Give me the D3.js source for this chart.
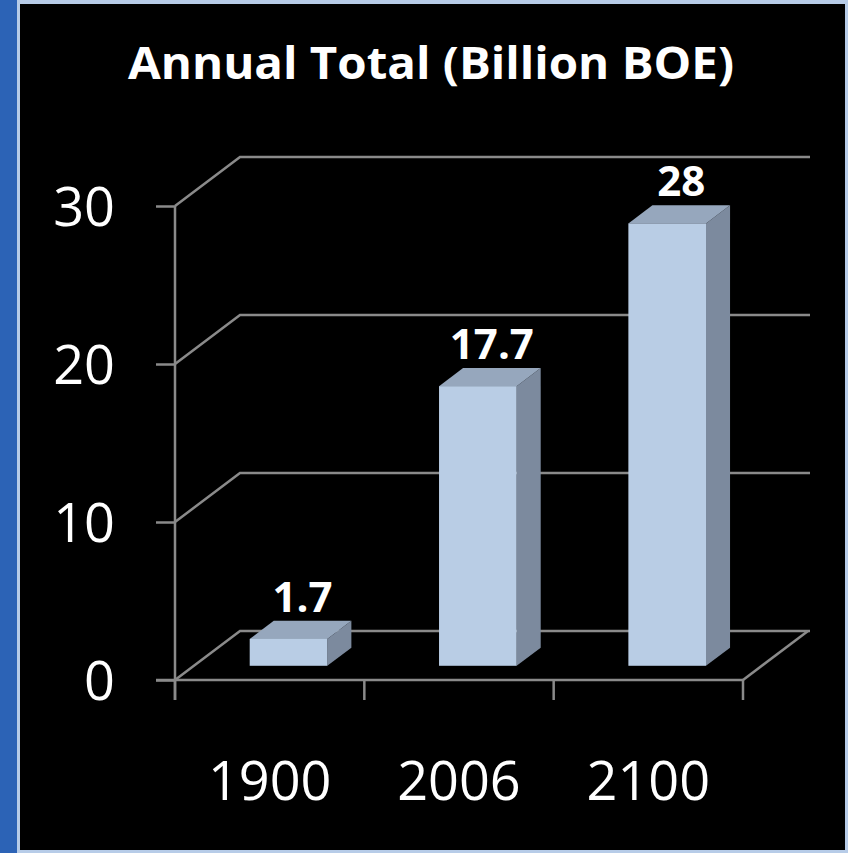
<!DOCTYPE html>
<html>
<head>
<meta charset="utf-8">
<script src="https://cdn.jsdelivr.net/npm/d3@7"></script>
<style>
  html, body { margin: 0; padding: 0; background: #b9cee9; }
  svg { display: block; }
</style>
</head>
<body>
<svg id="chart" width="848" height="853"></svg>
<script>
// Annual total energy, billion barrels of oil equivalent
const categories = ["1900", "2006", "2100"];
const values = [1.7, 17.7, 28];
const valueLabels = ["1.7", "17.7", "28"];
const yTicks = [0, 10, 20, 30];
const title = "Annual Total (Billion BOE)";

const svg = d3.select("#chart");
const W = 848, H = 853;

// Frame: blue strip on the left, black panel
svg.append("rect").attr("x", 0).attr("y", 0).attr("width", W).attr("height", H).attr("fill", "#b7cce8");
svg.append("rect").attr("x", 0).attr("y", 0).attr("width", 17).attr("height", H).attr("fill", "#2c63b6");
svg.append("rect").attr("x", 20).attr("y", 4).attr("width", 825).attr("height", 846).attr("fill", "#000");

// Front plane of the 3D box
const left = 175, right = 743;
const y = d3.scaleLinear().domain([0, 30]).range([680, 206]);
const x = d3.scaleBand().domain(categories).range([left, right])
  .paddingInner(0.59).paddingOuter(0.295);

// Depth vector of the box (front to back wall)
const depth = { dx: 65, dy: -49 };
const backRight = 810;
// Bars occupy this slice of the depth
const zFront = 0.29, zBack = 0.66;
const proj = (px, py, z) => [px + depth.dx * z, py + depth.dy * z];

const gridColor = "#8a8a8a";
const g = svg.append("g");

// Back-wall gridlines with their diagonal side-wall segments
yTicks.forEach(v => {
  const y0 = y(v);
  const [bx, by] = proj(left, y0, 1);
  g.append("path")
    .attr("d", `M${left},${y0}L${bx},${by}L${backRight},${by}`)
    .attr("fill", "none").attr("stroke", gridColor).attr("stroke-width", 2.5);
});

// Floor: right diagonal edge
{
  const [bx, by] = proj(right, y(0), 1);
  g.append("path").attr("d", `M${right},${y(0)}L${bx},${by}`)
    .attr("fill", "none").attr("stroke", gridColor).attr("stroke-width", 2.5);
}

// Bars as prisms: front, top and right side faces
const frontColor = "#b9cde5", topColor = "#96a7bd", sideColor = "#7c8a9e";
const bars = g.selectAll("g.bar").data(categories.map((c, i) => ({ c, v: values[i], label: valueLabels[i] })))
  .join("g").attr("class", "bar");

bars.each(function(d) {
  const sel = d3.select(this);
  const x0f = x(d.c), x1f = x(d.c) + x.bandwidth();
  const [fx0, fyb] = proj(x0f, y(0), zFront);
  const [fx1] = proj(x1f, y(0), zFront);
  const [, fyt] = proj(x0f, y(d.v), zFront);
  const [bx0, byt] = proj(x0f, y(d.v), zBack);
  const [bx1] = proj(x1f, y(d.v), zBack);
  const [, byb] = proj(x1f, y(0), zBack);
  // side
  sel.append("path")
    .attr("d", `M${fx1},${fyt}L${bx1},${byt}L${bx1},${byb}L${fx1},${fyb}Z`)
    .attr("fill", sideColor);
  // top
  sel.append("path")
    .attr("d", `M${fx0},${fyt}L${bx0},${byt}L${bx1},${byt}L${fx1},${fyt}Z`)
    .attr("fill", topColor);
  // front
  sel.append("rect")
    .attr("x", fx0).attr("y", fyt).attr("width", fx1 - fx0).attr("height", fyb - fyt)
    .attr("fill", frontColor);
  // value label above the bar
  sel.append("text")
    .attr("x", (fx0 + bx1) / 2 + 2)
    .attr("y", byt - 9)
    .attr("text-anchor", "middle")
    .attr("font-family", "'Open Sans', sans-serif")
    .attr("font-weight", 700)
    .attr("font-size", 42)
    .attr("fill", "#fff")
    .text(d.label);
});

// Front axes
g.append("line").attr("x1", left).attr("x2", left).attr("y1", y(30)).attr("y2", 700)
  .attr("stroke", gridColor).attr("stroke-width", 2.5);
g.append("line").attr("x1", 156).attr("x2", right).attr("y1", y(0)).attr("y2", y(0))
  .attr("stroke", gridColor).attr("stroke-width", 2.5);

// Category boundary ticks
const bounds = [left].concat(categories.map(c => x(c) + x.bandwidth() + x.step() * x.paddingInner() / 2));
bounds[bounds.length - 1] = right;
g.selectAll("line.xtick").data(bounds).join("line").attr("class", "xtick")
  .attr("x1", d => d).attr("x2", d => d).attr("y1", y(0)).attr("y2", 700)
  .attr("stroke", gridColor).attr("stroke-width", 2.5);

// Y axis ticks and labels
const yAxis = d3.axisLeft(y).tickValues(yTicks).tickSize(19).tickPadding(41).tickFormat(d3.format("d"));
const ya = svg.append("g").attr("transform", `translate(${left},0)`).call(yAxis);
ya.select(".domain").remove();
ya.selectAll(".tick line").attr("stroke", gridColor).attr("stroke-width", 2.5);
ya.selectAll(".tick text")
  .attr("fill", "#fff")
  .attr("font-family", "'Open Sans', sans-serif")
  .attr("font-size", 54)
  .attr("dy", "0.36em");

// Category labels
svg.selectAll("text.xlab").data(categories).join("text").attr("class", "xlab")
  .attr("x", d => x(d) + x.bandwidth() / 2)
  .attr("y", 800)
  .attr("text-anchor", "middle")
  .attr("font-family", "'Open Sans', sans-serif")
  .attr("font-size", 54)
  .attr("fill", "#fff")
  .text(d => d);

// Title
svg.append("text")
  .attr("x", 431).attr("y", 79)
  .attr("text-anchor", "middle")
  .attr("font-family", "'Open Sans', sans-serif")
  .attr("font-weight", 700)
  .attr("font-size", 45)
  .attr("textLength", 606)
  .attr("lengthAdjust", "spacingAndGlyphs")
  .attr("fill", "#fff")
  .text(title);
</script>
</body>
</html>
